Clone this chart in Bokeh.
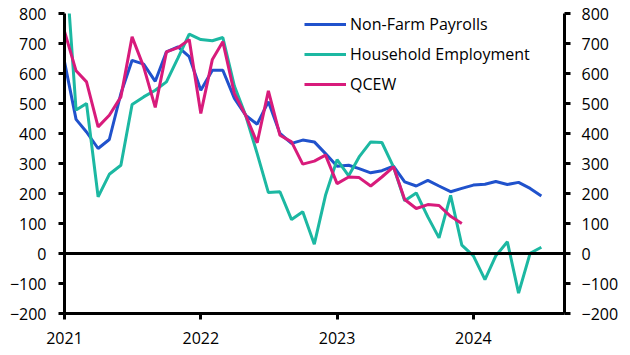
import pandas as pd
from bokeh.plotting import figure
from bokeh.models import (LinearAxis, DatetimeTickFormatter, FixedTicker, Span,
                          Range1d, Legend, LegendItem)
from bokeh.embed import file_html
from bokeh.resources import INLINE

# ---- data (monthly, thousands) ----
start_month = "2021-01-01"
nfp = [639, 447, 405, 350, 380, 533, 644, 631, 574, 672, 689, 656,
       544, 611, 611, 517, 461, 431, 506, 400, 367, 378, 372, 333,
       291, 294, 283, 269, 276, 291, 239, 225, 244, 225, 206, 217,
       228, 231, 240, 230, 237, 217, 192]
household = [1030, 478, 500, 189, 264, 294, 497, 522, 544, 572, 652, 731,
             713, 709, 720, 558, 461, 333, 203, 206, 113, 139, 31, 194,
             313, 259, 322, 372, 370, 289, 176, 202, 122, 52, 194, 28,
             -8, -87, -8, 39, -132, 1, 21]
qcew = [740, 609, 572, 422, 461, 522, 722, 622, 487, 672, 686, 713,
        467, 647, 706, 533, 461, 369, 542, 394, 372, 298, 308, 328,
        233, 255, 253, 225, 255, 289, 180, 150, 163, 160, 124, 100]
series_names = ["Non-Farm Payrolls", "Household Employment", "QCEW"]
year_ticks = ["2021-01-01", "2022-01-01", "2023-01-01", "2024-01-01"]
y_ticks = [-200, -100, 0, 100, 200, 300, 400, 500, 600, 700, 800]
x_start, x_end = "2021-01-01", "2024-09-01"
y_start, y_end = -200, 800

colors = ["#2052cc", "#1cb8a2", "#d81b7b"]
FONT = "Open Sans"

months_nfp = pd.date_range(start_month, periods=len(nfp), freq="MS")
months_hh = pd.date_range(start_month, periods=len(household), freq="MS")
months_q = pd.date_range(start_month, periods=len(qcew), freq="MS")

p = figure(width=630, height=355, x_axis_type="datetime",
           x_range=Range1d(pd.Timestamp(x_start), pd.Timestamp(x_end)),
           y_range=Range1d(y_start, y_end),
           output_backend="svg", toolbar_location=None,
           min_border_left=64, min_border_right=66,
           min_border_top=13, min_border_bottom=42)
p.outline_line_color = None
p.xgrid.visible = False
p.ygrid.visible = False
p.background_fill_color = "white"
p.border_fill_color = "white"

p.add_layout(Span(location=0, dimension="width", line_color="black", line_width=3))

r1 = p.line(months_nfp, nfp, line_color=colors[0], line_width=3)
r2 = p.line(months_hh, household, line_color=colors[1], line_width=3)
r3 = p.line(months_q, qcew, line_color=colors[2], line_width=3)

right_axis = LinearAxis()
p.add_layout(right_axis, "right")

def style_axis(ax, standoff):
    ax.axis_line_color = "black"
    ax.axis_line_width = 3
    ax.major_tick_line_color = "black"
    ax.major_tick_line_width = 3
    ax.major_tick_out = 6
    ax.major_tick_in = 0
    ax.minor_tick_line_color = None
    ax.major_label_text_font = FONT
    ax.major_label_text_font_size = "16px"
    ax.major_label_text_color = "black"
    ax.major_label_standoff = standoff

for ax in p.yaxis:
    ax.ticker = FixedTicker(ticks=y_ticks)
style_axis(p.yaxis[0], 12)
style_axis(right_axis, 11)

xa = p.xaxis[0]
xa.ticker = FixedTicker(ticks=[pd.Timestamp(t).value // 10**6 for t in year_ticks])
xa.formatter = DatetimeTickFormatter(years="%Y", months="%Y", days="%Y")
style_axis(xa, 12)

legend = Legend(items=[LegendItem(label=series_names[0], renderers=[r1]),
                       LegendItem(label=series_names[1], renderers=[r2]),
                       LegendItem(label=series_names[2], renderers=[r3])],
                location=(240, 218), padding=0, margin=0, spacing=8,
                glyph_width=42, glyph_height=22, label_height=22,
                label_standoff=4, border_line_color=None,
                background_fill_alpha=0,
                label_text_font=FONT, label_text_font_size="16px",
                label_text_color="black")
p.add_layout(legend)

open("out.html", "w").write(file_html(p, INLINE))
